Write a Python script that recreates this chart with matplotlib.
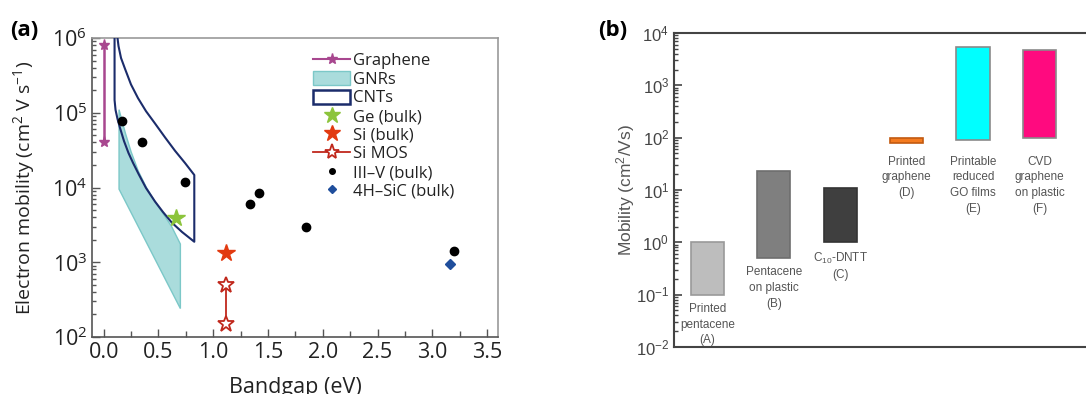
import numpy as np
import matplotlib.pyplot as plt
from matplotlib.patches import Polygon, Patch
from matplotlib.lines import Line2D
from matplotlib.ticker import MultipleLocator, LogLocator, NullFormatter

plt.rcParams['font.family'] = ['Open Sans', 'DejaVu Sans']
plt.rcParams['mathtext.fontset'] = 'custom'
plt.rcParams['mathtext.rm'] = 'Open Sans'
plt.rcParams['mathtext.sf'] = 'Liberation Sans'

# ---- panel (a) data: bandgap (eV) vs electron mobility (cm2/Vs)
graphene_gap = [0.0, 0.0]
graphene_mu = [4.0e4, 8.0e5]

gnr_top_gap = [0.14, 0.17, 0.20, 0.25, 0.316, 0.39, 0.468, 0.55, 0.62, 0.70]
gnr_top_mu = [1.1e5, 7.5e4, 5.2e4, 3.0e4, 1.65e4, 1.0e4, 6.5e3, 4.3e3, 3.0e3, 1.75e3]
gnr_bot_gap = [0.70, 0.14]
gnr_bot_mu = [2.4e2, 9.5e3]

cnt_lower_gap = [0.099, 0.099, 0.108, 0.126, 0.149, 0.185, 0.226, 0.268, 0.318,
                 0.386, 0.468, 0.541, 0.621, 0.715, 0.827]
cnt_lower_mu = [3.0e6, 1.48e5, 1.09e5, 8.25e4, 6.25e4, 4.19e4, 2.9e4, 2.13e4, 1.52e4,
                9.85e3, 6.5e3, 4.7e3, 3.4e3, 2.54e3, 1.88e3]
cnt_upper_gap = [0.827, 0.742, 0.651, 0.559, 0.468, 0.386, 0.313, 0.249, 0.195,
                 0.158, 0.135, 0.117, 0.108]
cnt_upper_mu = [1.47e4, 2.13e4, 3.1e4, 4.7e4, 7.2e4, 1.05e5, 1.57e5, 2.39e5, 3.85e5,
                5.4e5, 7.8e5, 1.28e6, 2.0e6]

ge_gap, ge_mu = [0.66], [3.9e3]
si_gap, si_mu = [1.12], [1.35e3]
simos_gap = [1.12, 1.12]
simos_mu = [1.5e2, 5.0e2]
iiiv_gap = [0.17, 0.354, 0.74, 1.34, 1.42, 1.85, 3.20]
iiiv_mu = [7.7e4, 4.0e4, 1.2e4, 6.0e3, 8.5e3, 3.0e3, 1.4e3]
sic_gap, sic_mu = [3.16], [9.5e2]

# ---- panel (b) data
materials = ['Printed\npentacene\n(A)', 'Pentacene\non plastic\n(B)',
             r'C$_{\mathsf{10}}$-DNTT' + '\n(C)', 'Printed\ngraphene\n(D)',
             'Printable\nreduced\nGO films\n(E)', 'CVD\ngraphene\non plastic\n(F)']
mu_low = [0.1, 0.5, 1.0, 78, 90, 100]
mu_high = [1.0, 23, 10.8, 98, 5400, 4800]
bar_face = ['#bdbdbd', '#7f7f7f', '#3f3f3f', '#f47b20', '#00ffff', '#ff0a7f']
bar_edge = ['#999999', '#6e6e6e', '#333333', '#c25a10', '#8a8a8a', '#8a8a8a']

fig = plt.figure(figsize=(10.86, 3.94), dpi=100)

# ================= (a)
ax = fig.add_axes([92/1086, 1-337/394, 406/1086, 299/394])
ax.set_yscale('log')
ax.set_xlim(-0.107, 3.60)
ax.set_ylim(1e2, 1e6)

teal_face, teal_edge = '#aadcdc', '#7cc8c8'
navy = '#1b2c6b'
gnr = Polygon(list(zip(gnr_top_gap + gnr_bot_gap, gnr_top_mu + gnr_bot_mu)),
              closed=True, facecolor=teal_face, edgecolor=teal_edge, lw=1, zorder=2)
ax.add_patch(gnr)
cnt = Polygon(list(zip(cnt_lower_gap + cnt_upper_gap, cnt_lower_mu + cnt_upper_mu)),
              closed=True, facecolor='none', edgecolor=navy, lw=1.5, zorder=3,
              joinstyle='round')
ax.add_patch(cnt)

ax.plot(graphene_gap, graphene_mu, '-*', color='#a8478f', ms=8, lw=1.8, zorder=4)
ax.plot(ge_gap, ge_mu, '*', color='#8cc43c', ms=13, zorder=5)
ax.plot(si_gap, si_mu, '*', color='#e23a10', ms=13, zorder=5)
ax.plot(simos_gap, simos_mu, '-*', color='#c0281c', mfc='white', mec='#c0281c',
        mew=1.3, ms=12, lw=1.3, zorder=5)
ax.plot(iiiv_gap, iiiv_mu, 'o', color='black', ms=6, zorder=5)
ax.plot(sic_gap, sic_mu, 'D', color='#1f4e9c', ms=5, zorder=5)

ax.set_xticks(np.arange(0, 3.51, 0.5))
ax.set_xticklabels(['%.1f' % v for v in np.arange(0, 3.51, 0.5)])
ax.xaxis.set_minor_locator(MultipleLocator(0.25))
ax.set_yticks([1e2, 1e3, 1e4, 1e5, 1e6])
ax.set_yticklabels([r'10$^{%d}$' % k for k in range(2, 7)])
ax.yaxis.set_minor_locator(LogLocator(base=10, subs=np.arange(2, 10)))
ax.yaxis.set_minor_formatter(NullFormatter())
ax.tick_params(which='both', direction='in', colors='#555555', labelcolor='#222222',
               labelsize=15.5)
ax.tick_params(which='major', length=6, width=1)
ax.tick_params(which='minor', length=3, width=1)
ax.tick_params(axis='x', which='minor', length=4)
for s in ['left', 'bottom']:
    ax.spines[s].set_color('#555555')
    ax.spines[s].set_linewidth(1.2)
for s in ['top', 'right']:
    ax.spines[s].set_color('#999999')
    ax.spines[s].set_linewidth(1.2)
ax.set_xlabel('Bandgap (eV)', fontsize=15.5, color='#222222', labelpad=10)
ax.set_ylabel(r'Electron mobility (cm$^2$ V s$^{-1}$)', fontsize=14,
              color='#222222')
ax.yaxis.set_label_coords(-0.133, 0.5)

handles = [
    Line2D([], [], color='#a8478f', marker='*', ms=8, lw=1.5),
    Patch(facecolor=teal_face, edgecolor=teal_edge),
    Patch(facecolor='white', edgecolor=navy, lw=1.8),
    Line2D([], [], color='#8cc43c', marker='*', ms=12, lw=0),
    Line2D([], [], color='#e23a10', marker='*', ms=12, lw=0),
    Line2D([], [], color='#c0281c', marker='*', mfc='white', mew=1.3, ms=11, lw=1.3),
    Line2D([], [], color='black', marker='o', ms=4, lw=0),
    Line2D([], [], color='#1f4e9c', marker='D', ms=4, lw=0),
]
labels = ['Graphene', 'GNRs', 'CNTs', 'Ge (bulk)', 'Si (bulk)', 'Si MOS',
          'III\u2013V (bulk)', '4H\u2013SiC (bulk)']
ax.legend(handles, labels, loc='upper left', bbox_to_anchor=(0.545, 0.952),
          frameon=False, fontsize=12, handlelength=2.2, handleheight=0.9,
          handletextpad=0.2, labelspacing=0.12, borderpad=0, borderaxespad=0,
          labelcolor='#222222')

fig.text(10/1086, 1-30/394, '(a)', fontsize=16, fontweight='bold', va='center')

# ================= (b)
bx = fig.add_axes([674/1086, 1-347/394, 432/1086, 314/394])
bx.set_yscale('log')
bx.set_ylim(1e-2, 1e4)
bx.set_xlim(0.5, 7.0)
pos = np.arange(1, len(materials) + 1)
heights = np.array(mu_high) - np.array(mu_low)
bx.bar(pos, heights, bottom=mu_low, width=0.5, color=bar_face,
       edgecolor=bar_edge, linewidth=1.2, zorder=3)

label_y = list(mu_low[:3]) + [min(mu_low[3:])] * 3
offsets = [-6, -6, -6, -9, -9, -9]
for p, lab, yv, off in zip(pos, materials, label_y, offsets):
    bx.annotate(lab, (p, yv), xytext=(0, off), textcoords='offset points',
                ha='center', va='top', fontsize=8.5, color='#555555',
                family=['Liberation Sans'], linespacing=1.4)

bx.set_xticks([])
bx.set_yticks([10.0**k for k in range(-2, 5)])
bx.set_yticklabels([r'$\mathsf{10^{%d}}$' % k for k in range(-2, 5)])
bx.yaxis.set_minor_locator(LogLocator(base=10, subs=np.arange(2, 10)))
bx.yaxis.set_minor_formatter(NullFormatter())
bx.tick_params(which='both', direction='in', colors='#444444', labelcolor='#444444',
               labelsize=12)
bx.tick_params(which='major', length=6, width=1.2)
bx.tick_params(which='minor', length=3, width=1)
for s in ['left', 'bottom', 'top']:
    bx.spines[s].set_color('#444444')
    bx.spines[s].set_linewidth(1.5)
bx.spines['right'].set_visible(False)
bx.set_ylabel(r'Mobility (cm$\mathsf{^2}$/Vs)', fontsize=12.5, color='#555555',
              family=['Liberation Sans'], labelpad=-1)

fig.text(598/1086, 1-30/394, '(b)', fontsize=16, fontweight='bold', va='center')

fig.savefig('out.png', dpi=100)
